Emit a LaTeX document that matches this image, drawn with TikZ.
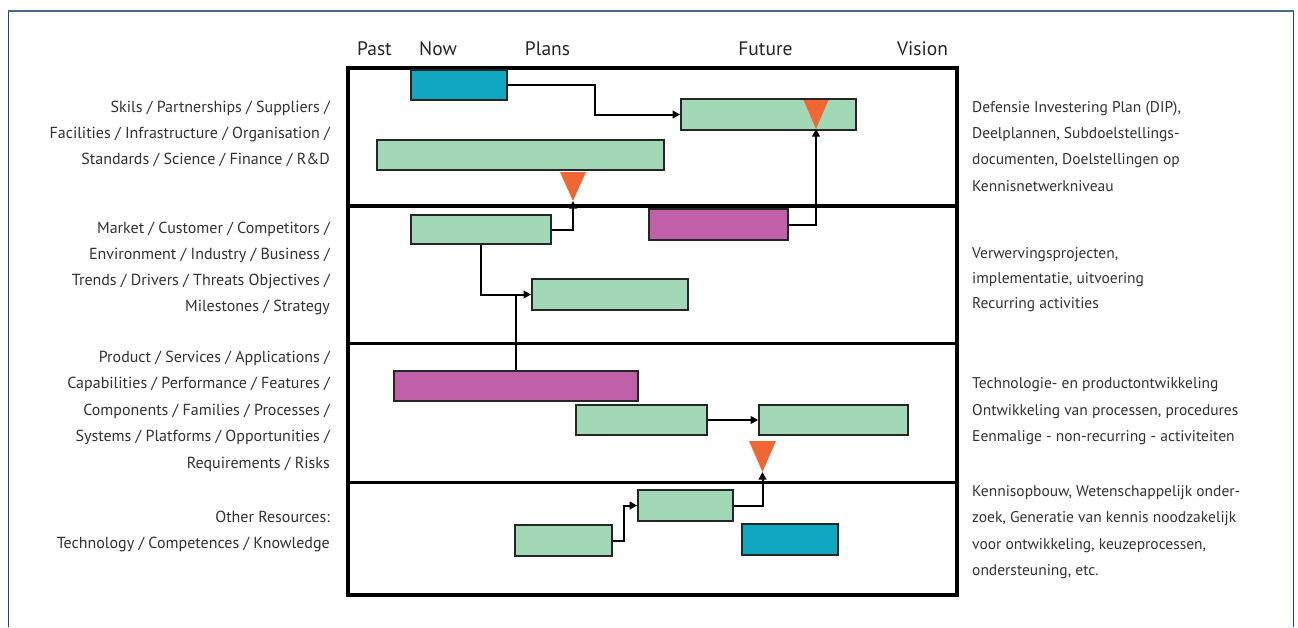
\documentclass[tikz,border=0pt]{standalone}
\usepackage{fontspec}
\setmainfont{PT Sans}
\usetikzlibrary{arrows.meta}
\definecolor{boxgreen}{RGB}{163,216,183}
\definecolor{boxcyan}{RGB}{16,168,192}
\definecolor{boxmag}{RGB}{192,96,168}
\definecolor{triorange}{RGB}{240,102,52}
\definecolor{txtgray}{RGB}{50,50,50}
\definecolor{frametop}{RGB}{72,106,140}
\definecolor{frameside}{RGB}{30,70,120}
\tikzset{
  bar/.style={draw=black!85, line width=1.6pt, inner sep=0pt, minimum height=30pt},
  gbar/.style={bar, fill=boxgreen},
  cbar/.style={bar, fill=boxcyan},
  mbar/.style={bar, fill=boxmag},
  conn/.style={line width=2pt, draw=black},
  arr/.style={conn, -{Triangle[length=7.5pt,width=7.5pt]}},
  tri/.style={fill=triorange},
  lefttxt/.style={anchor=base east, inner sep=0pt, text=txtgray, font=\fontsize{16}{18}\selectfont},
  righttxt/.style={anchor=base west, inner sep=0pt, text=txtgray, font=\fontsize{15.5}{18}\selectfont},
  headtxt/.style={anchor=base, inner sep=0pt, text=black!85, font=\fontsize{19.5}{22}\selectfont}
}
\begin{document}
\begin{tikzpicture}[x=1pt,y=-1pt]
\useasboundingbox (0,0) rectangle (1298,627);
\fill[white] (0,0) rectangle (1298,627);
% outer frame
\draw[frameside, line width=1pt] (8,627) -- (8,11);
\draw[frameside, line width=1pt] (1293,11) -- (1293,627);
\draw[frametop, line width=2.5pt] (7.5,11) -- (1293.5,11);

% headers
\node[headtxt] (hPast) at (374.5,55) {Past};
\node[headtxt] (hNow) at (438,55) {Now};
\node[headtxt] (hPlans) at (547.5,55) {Plans};
\node[headtxt] (hFuture) at (765.5,55) {Future};
\node[headtxt] (hVision) at (922.5,55) {Vision};

% main chart frame
\draw[line width=4pt] (348,68) rectangle (957,595);
\draw[line width=4pt] (348,206) -- (957,206);
\draw[line width=3pt] (348,343) -- (957,343);
\draw[line width=3pt] (348,482) -- (957,482);

% bars
\node[cbar, minimum width=96pt] (cy1) at (459,85) {};
\node[gbar, minimum width=175pt, minimum height=31pt] (gTR) at (768.5,114.5) {};
\node[gbar, minimum width=287pt] (gL) at (520.5,155) {};
\node[gbar, minimum width=140pt, minimum height=29pt] (gA) at (481,229.5) {};
\node[mbar, minimum width=139pt, minimum height=31pt] (mg1) at (718.5,224.5) {};
\node[gbar, minimum width=156pt, minimum height=31pt] (gB) at (610,294.5) {};
\node[mbar, minimum width=244pt] (mg2) at (516,386) {};
\node[gbar, minimum width=131pt] (gC) at (641.5,420) {};
\node[gbar, minimum width=149pt] (gD) at (833.5,420) {};
\node[gbar, minimum width=95pt, minimum height=31pt] (gE) at (685.5,505.5) {};
\node[gbar, minimum width=97pt, minimum height=31pt] (gF) at (563.5,540.5) {};
\node[cbar, minimum width=96pt, minimum height=31pt] (cy2) at (790,539.5) {};

% milestone triangles (apex pointing down)
\coordinate (t1) at (816,129);
\coordinate (t2) at (573,201);
\coordinate (t3) at (762.5,472);
\fill[tri] (t1) -- ++(-12.5,-29) -- ++(25,0) -- cycle;
\fill[tri] (t2) -- ++(-13,-29) -- ++(26,0) -- cycle;
\fill[tri] (t3) -- ++(-13.5,-31) -- ++(27,0) -- cycle;

% connectors
\draw[arr] (cy1.east) -- ++(87,0) |- (gTR.west);
\draw[arr] (mg1.east) -| (t1);
\draw[arr] (gA.east) -| (t2);
\draw[arr] (gA.south) |- (gB.west);
\draw[conn] (mg2.north) -- (mg2.north |- gB.west);
\draw[arr] (gC.east) -- (gD.west);
\draw[arr] (gF.east) -- ++(11,0) |- (gE.west);
\draw[arr] (gE.east) -| (t3);

% left texts
\node[lefttxt] (l1) at (330,112.5) {Skils / Partnerships / Suppliers /};
\node[lefttxt] (l2) at (330,138.5) {Facilities / Infrastructure / Organisation /};
\node[lefttxt] (l3) at (330,164.5) {Standards / Science / Finance / R\&D};
\node[lefttxt] (l4) at (330,233.5) {Market / Customer / Competitors /};
\node[lefttxt] (l5) at (330,259.5) {Environment / Industry / Business /};
\node[lefttxt] (l6) at (330,285.5) {Trends / Drivers / Threats Objectives /};
\node[lefttxt] (l7) at (330,311.5) {Milestones / Strategy};
\node[lefttxt] (l8) at (330,362.5) {Product / Services / Applications /};
\node[lefttxt] (l9) at (330,388.5) {Capabilities / Performance / Features /};
\node[lefttxt] (l10) at (330,415.5) {Components / Families / Processes /};
\node[lefttxt] (l11) at (330,441.5) {Systems / Platforms / Opportunities /};
\node[lefttxt] (l12) at (330,468.5) {Requirements / Risks};
\node[lefttxt] (l13) at (330,522.5) {Other Resources:};
\node[lefttxt] (l14) at (330,548.5) {Technology / Competences / Knowledge};

% right texts
\node[righttxt] (r1) at (972,112.5) {Defensie Investering Plan (DIP),};
\node[righttxt] (r2) at (972,138.5) {Deelplannen, Subdoelstellings-};
\node[righttxt] (r3) at (972,164.5) {documenten, Doelstellingen op};
\node[righttxt] (r4) at (972,191.5) {Kennisnetwerkniveau};
\node[righttxt] (r5) at (972,258) {Verwervingsprojecten,};
\node[righttxt] (r6) at (972,283) {implementatie, uitvoering};
\node[righttxt] (r7) at (972,308) {Recurring activities};
\node[righttxt] (r8) at (972,388.5) {Technologie- en productontwikkeling};
\node[righttxt] (r9) at (972,415.5) {Ontwikkeling van processen, procedures};
\node[righttxt] (r10) at (972,441.5) {Eenmalige - non-recurring - activiteiten};
\node[righttxt] (r11) at (972,496) {Kennisopbouw, Wetenschappelijk onder-};
\node[righttxt] (r12) at (972,522.5) {zoek, Generatie van kennis noodzakelijk};
\node[righttxt] (r13) at (972,549) {voor ontwikkeling, keuzeprocessen,};
\node[righttxt] (r14) at (972,575.5) {ondersteuning, etc.};
\end{tikzpicture}
\end{document}
